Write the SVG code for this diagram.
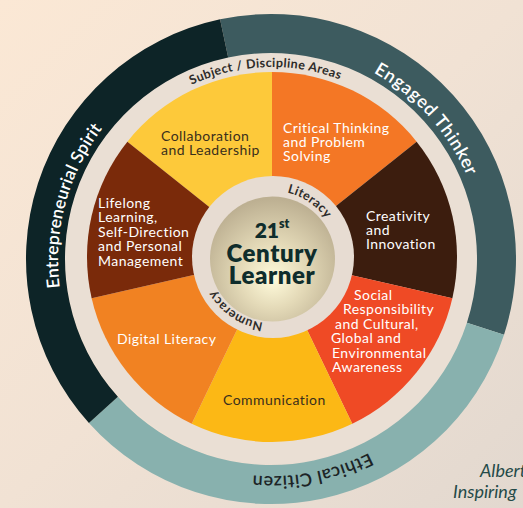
<svg xmlns="http://www.w3.org/2000/svg" width="523" height="508" viewBox="0 0 523 508">
<defs>
<linearGradient id="bg" x1="0" y1="0" x2="1" y2="1">
<stop offset="0" stop-color="#fbe8d5"/>
<stop offset="0.5" stop-color="#f1e2d4"/>
<stop offset="1" stop-color="#e2d8cf"/>
</linearGradient>
<radialGradient id="gold" cx="50%" cy="60%" r="58%" fx="50%" fy="66%">
<stop offset="0" stop-color="#fffbdb"/>
<stop offset="0.45" stop-color="#e4dab8"/>
<stop offset="1" stop-color="#bdb092"/>
</radialGradient>
<path id="pEnt" d="M179.3,455.7 A218,218 0 0 1 289.9,42.8"/>
<path id="pEng" d="M156,75 A218,218 0 0 1 442,392.6"/>
<path id="pEth" d="M488,255.2 A217,217 0 0 1 68.4,336.8"/>
<path id="pSub" d="M83.8,230.6 A190,190 0 0 1 457.8,217.5"/>
<path id="pLit" d="M224.5,211.1 A66,66 0 0 1 332.3,283.8"/>
<path id="pNum" d="M319.5,302.9 A66,66 0 0 1 211.7,230.2"/>
<style>
.lbl{font-family:Lato,"Open Sans",sans-serif;font-size:14px;letter-spacing:0.45px;fill:#ffffff}
.dk{fill:#3a2f1c}
.ring{font-family:Lato,"Open Sans",sans-serif;font-size:18px;font-weight:600;fill:#ffffff;letter-spacing:0.7px}
.sm{font-family:Lato,"Open Sans",sans-serif;font-size:12.5px;font-weight:700;fill:#2d2b29;letter-spacing:0.4px}
.ctr{font-family:Lato,"Open Sans",sans-serif;font-weight:800;fill:#0f2d2c;text-anchor:middle}
.foot{font-family:Lato,"Open Sans",sans-serif;font-size:18px;font-style:italic;fill:#244a48}
</style>
</defs>
<rect width="523" height="508" fill="url(#bg)"/>
<circle cx="272" cy="257" r="207" fill="#eadfd4"/>
<g id="outer-ring">
<g id="engaged-thinker">
<path d="M220.06,19.35 A245,245 0 0 1 504.01,334.71 L466.92,322.66 A206,206 0 0 0 228.17,57.5 Z" fill="#3d5b5f"/>
<text class="ring"><textPath href="#pEng" startOffset="50%" text-anchor="middle">Engaged Thinker</textPath></text>
</g>
<g id="ethical-citizen">
<path d="M504.01,334.71 A245,245 0 0 1 88.93,422.94 L117.91,396.84 A206,206 0 0 0 466.92,322.66 Z" fill="#88b1ae"/>
<text class="ring" style="fill:#1c2426;letter-spacing:0.5px"><textPath href="#pEth" startOffset="50%" text-anchor="middle">Ethical Citizen</textPath></text>
</g>
<g id="entrepreneurial-spirit">
<path d="M88.93,422.94 A245,245 0 0 1 220.06,19.35 L228.17,57.5 A206,206 0 0 0 117.91,396.84 Z" fill="#0d2427"/>
<text class="ring" style="font-size:17.5px;letter-spacing:0.2px"><textPath href="#pEnt" startOffset="50%" text-anchor="middle">Entrepreneurial Spirit</textPath></text>
</g>
</g>
<text class="sm"><textPath href="#pSub" startOffset="50%" text-anchor="middle">Subject / Discipline Areas</textPath></text>
<g id="wedges">
<g id="collaboration">
<path d="M272,257 L127.36,141.65 A185,185 0 0 1 272,72 Z" fill="#fdc93a"/>
<text class="lbl dk" x="161" y="141"><tspan x="161">Collaboration</tspan><tspan x="161" dy="14">and Leadership</tspan></text>
</g>
<g id="critical-thinking">
<path d="M272,257 L272,72 A185,185 0 0 1 416.64,141.65 Z" fill="#f47725"/>
<text class="lbl" x="283" y="132.5"><tspan x="283">Critical Thinking</tspan><tspan x="283" dy="14">and Problem</tspan><tspan x="283" dy="14">Solving</tspan></text>
</g>
<g id="creativity">
<path d="M272,257 L416.64,141.65 A185,185 0 0 1 452.36,298.17 Z" fill="#3c1d0e"/>
<text class="lbl" x="366" y="220.5"><tspan x="366">Creativity</tspan><tspan x="366" dy="14">and</tspan><tspan x="366" dy="14">Innovation</tspan></text>
</g>
<g id="social-responsibility">
<path d="M272,257 L452.36,298.17 A185,185 0 0 1 352.27,423.68 Z" fill="#ef4a25"/>
<text class="lbl" y="300"><tspan x="354">Social</tspan><tspan x="343" dy="14.4">Responsibility</tspan><tspan x="335" dy="14.4">and Cultural,</tspan><tspan x="331" dy="14.4">Global and</tspan><tspan x="332" dy="14.4">Environmental</tspan><tspan x="332" dy="14.4">Awareness</tspan></text>
</g>
<g id="communication">
<path d="M272,257 L352.27,423.68 A185,185 0 0 1 191.73,423.68 Z" fill="#fcb815"/>
<text class="lbl dk" x="223" y="404.5">Communication</text>
</g>
<g id="digital-literacy">
<path d="M272,257 L191.73,423.68 A185,185 0 0 1 91.64,298.17 Z" fill="#f18222"/>
<text class="lbl" x="117" y="344">Digital Literacy</text>
</g>
<g id="lifelong-learning">
<path d="M272,257 L91.64,298.17 A185,185 0 0 1 127.36,141.65 Z" fill="#7a2a0a"/>
<text class="lbl" x="98" y="208"><tspan x="98">Lifelong</tspan><tspan x="98" dy="14.4">Learning,</tspan><tspan x="98" dy="14.4">Self-Direction</tspan><tspan x="98" dy="14.4">and Personal</tspan><tspan x="98" dy="14.4">Management</tspan></text>
</g>
</g>
<g id="center">
<circle cx="273" cy="257" r="81" fill="#e7dcd2"/>
<text class="sm" style="font-size:12.5px"><textPath href="#pLit" startOffset="50%" text-anchor="middle">Literacy</textPath></text>
<text class="sm" style="font-size:12.5px"><textPath href="#pNum" startOffset="50%" text-anchor="middle">Numeracy</textPath></text>
<circle cx="272.5" cy="259" r="62.5" fill="url(#gold)"/>
<text class="ctr" x="272" y="238" style="font-size:21px">21<tspan dy="-10" style="font-size:12.5px">st</tspan></text>
<text class="ctr" x="272" y="262" style="font-size:24px;letter-spacing:0.6px">Century</text>
<text class="ctr" x="272" y="283.5" style="font-size:24px;letter-spacing:0.6px">Learner</text>
</g>
<g id="footer">
<text class="foot" x="480" y="477">Albert</text>
<text class="foot" x="453" y="498">Inspiring</text>
</g>
</svg>
